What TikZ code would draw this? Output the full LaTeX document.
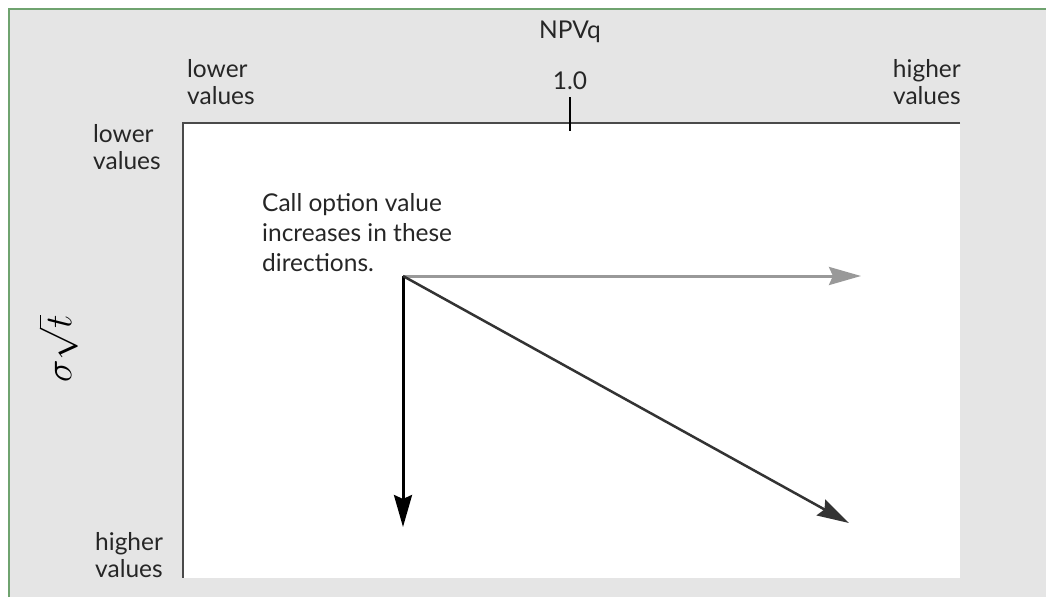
\RequirePackage{fix-cm}
\documentclass[tikz,border=0pt]{standalone}
\usepackage{fontspec}
\setmainfont{Lato}
\usetikzlibrary{arrows.meta}
\definecolor{bggray}{HTML}{E5E5E5}
\definecolor{framegreen}{HTML}{6FA36F}
\definecolor{axisgray}{HTML}{4A4A4A}
\definecolor{arrowlight}{HTML}{999999}
\definecolor{arrowdark}{HTML}{333333}
\begin{document}
\begin{tikzpicture}[x=1pt,y=-1pt,
  lbl/.style={font=\fontsize{24.5}{27}\selectfont, text=black!85, align=left, inner sep=0pt},
  note/.style={font=\fontsize{24.5}{30}\selectfont, text=black!85, align=left, inner sep=0pt},
  dirarrow/.style={line width=3pt, -{Stealth[length=32pt, width=18pt, inset=4pt]}}]
  \useasboundingbox (0,0) rectangle (1046,597);
  % panel background and frame
  \fill[bggray] (9,9) rectangle (1046,597);
  \draw[framegreen, line width=2pt] (9,597) -- (9,9) -- (1046,9);
  % plotting area with its two axes
  \fill[white] (183,123) rectangle (960,578);
  \draw[axisgray, line width=2.2pt] (960,123) -- (183,123) -- (183,578);
  \draw[black, line width=1.4pt] (570,97) -- (570,131);
  % axis labels
  \node[lbl, anchor=base] (npv) at (570,38) {NPVq};
  \node[lbl, anchor=base] (one) at (570,89) {1.0};
  \node[lbl, anchor=north west] (xlow) at (187,59) {lower\\values};
  \node[lbl, anchor=north east, align=center] (xhigh) at (961,59) {higher\\values};
  \node[lbl, anchor=north west] (ylow) at (93,124) {lower\\values};
  \node[lbl, anchor=north west] (yhigh) at (95,532) {higher\\values};
  \node[rotate=90, inner sep=0pt, font=\fontsize{38}{42}\selectfont] (sig) at (58,349) {$\sigma\sqrt{t}$};
  % direction of increasing call option value
  \node[note, anchor=north west] (call) at (262,193) {Call option value\\increases in these\\directions.};
  \coordinate (o) at (403,276);
  \coordinate (right) at (861,276);
  \coordinate (down) at (403,527);
  \coordinate (diag) at (849,523);
  \draw[dirarrow, arrowlight] (o) -- (right);
  \draw[dirarrow, black] (o) -- (down);
  \draw[dirarrow, arrowdark, line width=2.5pt] (o) -- (diag);
\end{tikzpicture}
\end{document}
